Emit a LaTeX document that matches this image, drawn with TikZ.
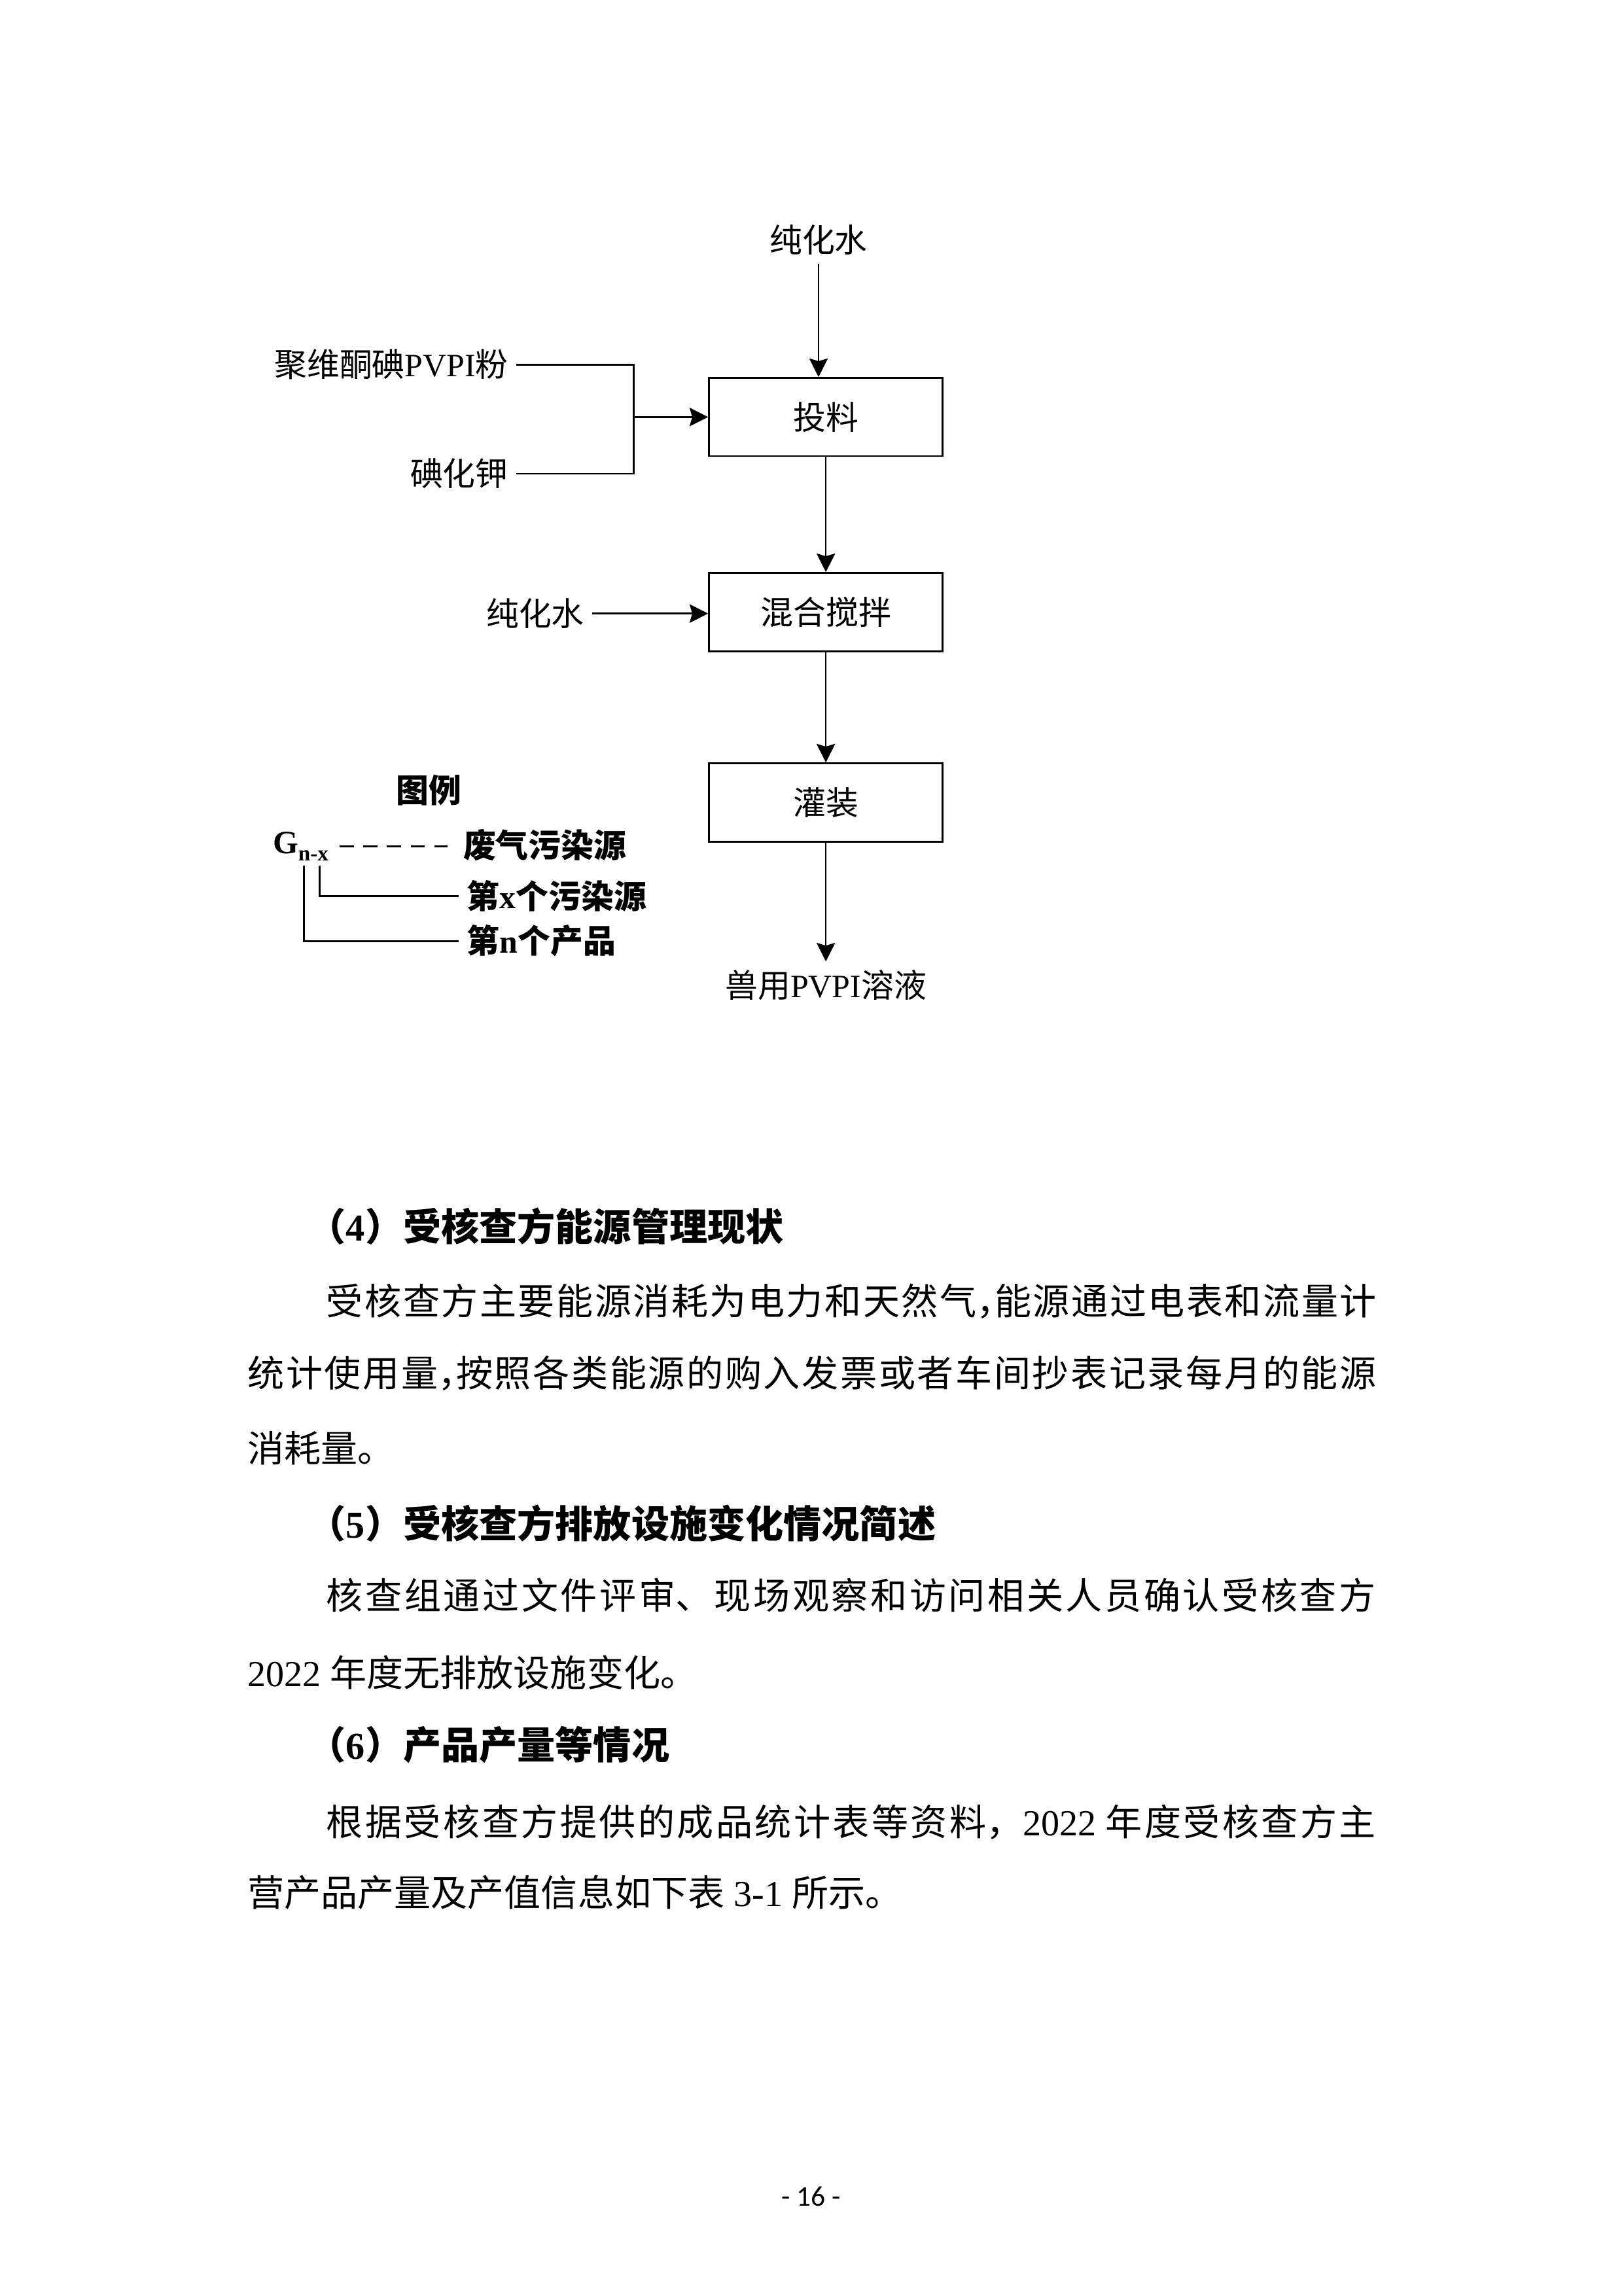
\documentclass[tikz,border=0pt]{standalone}
\usepackage{fontspec}
\setmainfont{Noto Sans CJK SC}
\newfontfamily\lat{Liberation Serif}
\newfontfamily\pgfont{Carlito}
\usepackage{tikz}
\usetikzlibrary{arrows.meta,positioning}
\XeTeXlinebreaklocale "zh"
\XeTeXlinebreakskip=0pt plus 1fil
\newcommand{\hc}{\makebox[0.5em][l]{，}}

\begin{document}
\begin{tikzpicture}[x=0.18936mm, y=-0.18936mm,
    box/.style={draw, line width=0.7pt, minimum width=30.2mm, minimum height=10.1mm, font=\fontsize{12}{14}\selectfont},
    lbl/.style={inner sep=1mm, font=\fontsize{12}{14}\selectfont},
    leg/.style={inner sep=0pt, anchor=west, font=\fontsize{12}{14}\selectfont\bfseries},
    arr/.style={-{Stealth[length=2.4mm,width=2.4mm,inset=0.35mm]}, line width=0.6pt},
    con/.style={line width=0.7pt},
    head/.style={anchor=west, inner sep=0pt, font=\fontsize{14}{16}\selectfont\bfseries},
    body/.style={anchor=west, inner sep=0pt, font=\fontsize{13.5}{16}\selectfont},
    just/.style={body, align=justify, text width=#1}]
    \fill[white] (0,0) rectangle (1109,1568);
    \useasboundingbox (0,0) rectangle (1109,1568);

    % Process chain
    \node[lbl] (chwA) at (559,164) {纯化水};
    \node[box] (tl) at (564,284.8) {投料};
    \node[box] (hh) at (564,418) {混合搅拌};
    \node[box] (gz) at (564,548) {灌装};
    \node[lbl] (prod) at (564,672.6) {兽用{\lat PVPI}溶液};

    % Inputs
    \node[lbl, anchor=east] (pvpi) at (352.7,249) {聚维酮碘{\lat PVPI}粉};
    \node[lbl, anchor=east] (kI) at (352.7,323.5) {碘化钾};
    \node[lbl, anchor=east] (chwB) at (404.6,419) {纯化水};
    \coordinate (jn) at (432.7,284.8);

    \draw[arr] (chwA.south) -- (chwA.south |- tl.north);
    \draw[con] (pvpi.east) -| (jn);
    \draw[con] (kI.east) -| (jn);
    \draw[arr] (jn) -- (tl.west);
    \draw[arr] (tl.south) -- (hh.north);
    \draw[arr] (chwB.east) -- (chwB.east -| hh.west);
    \draw[arr] (hh.south) -- (gz.north);
    \draw[arr] (gz.south) -- (prod.north);

    % Legend
    \node[leg, anchor=center] (tuli) at (293,539.6) {图例};
    \node[leg] (gn) at (186,578) {{\lat G\raisebox{-0.5ex}{\fontsize{8}{8}\selectfont n-x}}};
    \node[leg] (fq) at (316,577) {废气污染源};
    \node[leg] (dx) at (318.6,612) {第{\lat x}个污染源};
    \node[leg] (dn) at (318.6,642.6) {第{\lat n}个产品};
    \coordinate (gx) at (218.2,591);
    \coordinate (gnn) at (207.5,591);
    \draw[con, dash pattern=on 1.8mm off 1.25mm, shorten <=1.4mm, shorten >=2mm] (gn.east) -- (gn.east -| fq.west);
    \draw[con, shorten >=1mm] (gx) |- (dx.west);
    \draw[con, shorten >=1mm] (gnn) |- (dn.west);

    % Text below
    \node[head] (h4) at (210,837.6) {（{\lat 4}）受核查方能源管理现状};
    \node[just=136mm] (p4a) at (222.6,888.7) {\parfillskip=0pt 受核查方主要能源消耗为电力和天然气\hc 能源通过电表和流量计};
    \node[just=146.2mm] (p4b) at (168.7,938) {\parfillskip=0pt 统计使用量\hc 按照各类能源的购入发票或者车间抄表记录每月的能源};
    \node[body] (p4c) at (168.7,989) {消耗量。};
    \node[head] (h5) at (210,1040.3) {（{\lat 5}）受核查方排放设施变化情况简述};
    \node[just=136mm] (p5a) at (222.6,1089.6) {\parfillskip=0pt 核查组通过文件评审、现场观察和访问相关人员确认受核查方};
    \node[body] (p5b) at (168.7,1142.3) {{\lat 2022 }年度无排放设施变化。};
    \node[head] (h6) at (210,1191.7) {（{\lat 6}）产品产量等情况};
    \node[just=136mm] (p6a) at (222.6,1244.5) {\parfillskip=0pt 根据受核查方提供的成品统计表等资料，{\lat 2022 }年度受核查方主};
    \node[body] (p6b) at (168.7,1292.2) {营产品产量及产值信息如下表{\lat\ 3-1 }所示。};

    % Page number
    \node[font=\pgfont\fontsize{10.5}{12}\selectfont] (pg) at (554,1500) {- 16 -};
\end{tikzpicture}
\end{document}
